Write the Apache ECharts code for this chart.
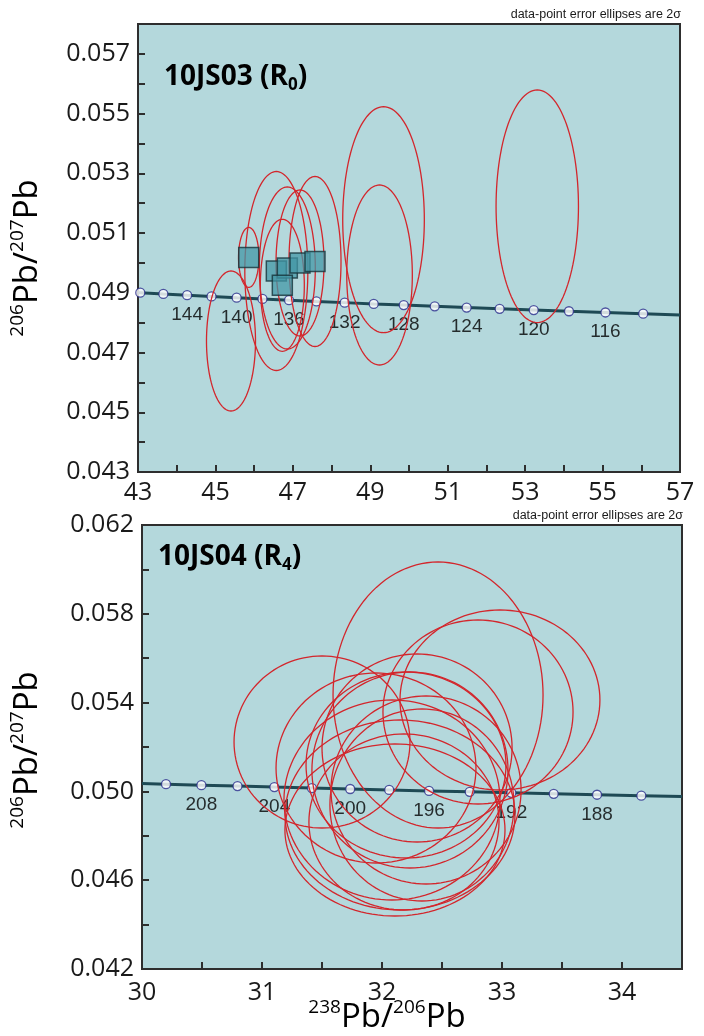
<!DOCTYPE html>
<html><head><meta charset="utf-8">
<script src="https://cdn.jsdelivr.net/npm/echarts@6/dist/echarts.min.js"></script>
<style>html,body{margin:0;padding:0;background:#fff}#c{width:704px;height:1036px}</style>
</head><body><div id="c"></div>
<script>
// ---------- Top panel: 10JS03 (R0) ----------
const topXTicks = [43, 45, 47, 49, 51, 53, 55, 57];
const topYTicks = [0.043, 0.045, 0.047, 0.049, 0.051, 0.053, 0.055, 0.057];
const topAges  = [148,146,144,142,140,138,136,134,132,130,128,126,124,122,120,118,116,114];
const topAgeX  = [43.059,43.655,44.269,44.899,45.548,46.215,46.901,47.609,48.338,49.089,49.864,50.664,51.489,52.341,53.222,54.132,55.074,56.049];
const topAgeY  = [0.049004,0.048962,0.048920,0.048879,0.048837,0.048795,0.048754,0.048712,0.048671,0.048629,0.048588,0.048547,0.048505,0.048464,0.048423,0.048382,0.048341,0.048300];
const topLabelAges = [144,140,136,132,128,124,120,116];
const topEdgeX = [43, 57];
const topEdgeY = [0.049008, 0.048260];
const topEllX  = [45.402, 45.860, 46.573, 46.857, 47.185, 47.572, 46.728, 49.342, 49.239, 53.313];
const topEllY  = [0.047386,0.050185,0.049730,0.049830,0.049998,0.050048,0.049251,0.051448,0.049596,0.051896];
const topEllSx = [0.633, 0.263, 0.814, 0.723, 0.620, 0.672, 0.568, 1.054, 0.847, 1.064];
const topEllSy = [0.002344,0.001004,0.003331,0.002712,0.002444,0.002846,0.002210,0.003783,0.003013,0.003894];
const topUsed  = [0,1,1,1,1,1,1,0,0,0];

// ---------- Bottom panel: 10JS04 (R4) ----------
const botXTicks = [30, 31, 32, 33, 34];
const botYTicks = [0.042, 0.046, 0.050, 0.054, 0.058, 0.062];
const botAges  = [210,208,206,204,202,200,198,196,194,192,190,188,186];
const botAgeX  = [30.200,30.495,30.796,31.103,31.416,31.735,32.060,32.392,32.731,33.078,33.431,33.792,34.161];
const botAgeY  = [0.050324,0.050282,0.050238,0.050194,0.050151,0.050108,0.050065,0.050022,0.049979,0.049936,0.049893,0.049850,0.049807];
const botLabelAges = [208,204,200,196,192,188];
const botEdgeX = [30, 34.5];
const botEdgeY = [0.050352, 0.049767];
const botEllX  = [32.467,32.983,32.800,31.500,31.950,32.292,32.200,32.367,32.333,32.183,32.108,32.150,32.083,32.233];
const botEllY  = [0.054342,0.054117,0.053577,0.052225,0.051054,0.051955,0.051189,0.050063,0.049387,0.048622,0.048261,0.048937,0.049613,0.050964];
const botEllSx = [0.875,0.833,0.792,0.733,0.833,0.792,0.833,0.792,0.767,0.792,0.917,0.958,0.900,0.817];
const botEllSy = [0.005991,0.004054,0.004144,0.003874,0.004279,0.004234,0.004189,0.004234,0.004324,0.003964,0.003874,0.004279,0.004505,0.004414];

const near = (arr, v) => arr.some(t => Math.abs(t - v) < 1e-7);
const TXT = '#1a1a1a';

function ellipseItem(params, api) {
  const c = api.coord([api.value(0), api.value(1)]);
  const s = api.size([api.value(2), api.value(3)]);
  const pts = [];
  for (let k = 0; k < 120; k++) {
    const a = k / 120 * Math.PI * 2;
    pts.push([c[0] + s[0] * Math.cos(a), c[1] + s[1] * Math.sin(a)]);
  }
  return { type: 'polygon', shape: { points: pts },
    style: { fill: 'none', stroke: '#d3262c', lineWidth: 1.3 } };
}

function curveData(ex, ey, ax, ay) {
  const d = [[ex[0], ey[0]]];
  ax.forEach((x, i) => d.push([x, ay[i]]));
  d.push([ex[1], ey[1]]);
  return d;
}

function axisPair(idx, xmin, xmax, xint, xTicks, ymin, ymax, yint, yTicks, xMargin) {
  return {
    x: { type: 'value', gridIndex: idx, min: xmin, max: xmax, interval: xint,
      axisLine: { show: true, onZero: false, lineStyle: { color: '#2e2e2e', width: 2 } },
      axisTick: { show: true, inside: true, length: 7, lineStyle: { color: '#2e2e2e', width: 2 } },
      splitLine: { show: false },
      axisLabel: { margin: xMargin, fontSize: 25, fontFamily: 'Open Sans', color: TXT,
        formatter: v => near(xTicks, v) ? String(Math.round(v)) : '' } },
    y: { type: 'value', gridIndex: idx, min: ymin, max: ymax, interval: yint,
      axisLine: { show: true, onZero: false, lineStyle: { color: '#2e2e2e', width: 2 } },
      axisTick: { show: true, inside: true, length: 7, lineStyle: { color: '#2e2e2e', width: 2 } },
      splitLine: { show: false },
      axisLabel: { margin: 8, fontSize: 25, fontFamily: 'Open Sans', color: TXT,
        formatter: v => near(yTicks, v) ? v.toFixed(3) : '' } }
  };
}

const a0 = axisPair(0, 43, 57, 1, topXTicks, 0.043, 0.058, 0.001, topYTicks, 8);
const a1 = axisPair(1, 30, 34.5, 0.5, botXTicks, 0.042, 0.062, 0.002, botYTicks, 11);

function concSeries(idx, ex, ey, ax, ay, ages, labelAges) {
  return [
    { type: 'line', xAxisIndex: idx, yAxisIndex: idx, data: curveData(ex, ey, ax, ay),
      showSymbol: false, silent: true, z: 1,
      lineStyle: { color: '#1e4a55', width: 3 } },
    { type: 'scatter', xAxisIndex: idx, yAxisIndex: idx, z: 2,
      data: ax.map((x, i) => [x, ay[i], ages[i]]),
      symbol: 'circle', symbolSize: 9,
      itemStyle: { color: '#ffffff', borderColor: '#2a2d8c', borderWidth: 1.3 },
      label: { show: true, position: 'bottom', distance: 5, fontSize: 19,
        fontFamily: 'Liberation Sans', color: '#000',
        formatter: p => labelAges.indexOf(p.value[2]) >= 0 ? String(p.value[2]) : '' } }
  ];
}

const topEllData = topEllX.map((x, i) => [x, topEllY[i], topEllSx[i], topEllSy[i]]);
const botEllData = botEllX.map((x, i) => [x, botEllY[i], botEllSx[i], botEllSy[i]]);
const topSquares = topEllX.map((x, i) => [x, topEllY[i]]).filter((d, i) => topUsed[i]);

const supRich = {
  m: { fontSize: 33, fontFamily: 'Open Sans', color: TXT, lineHeight: 40 },
  s: { fontSize: 19, fontFamily: 'Open Sans', color: TXT, lineHeight: 22, verticalAlign: 'top' }
};
const titleRich = {
  t: { fontSize: 28, fontWeight: 'bold', fontFamily: 'Open Sans', color: TXT, lineHeight: 34 },
  b: { fontSize: 17, fontWeight: 'bold', fontFamily: 'Open Sans', color: TXT, lineHeight: 20, verticalAlign: 'bottom' }
};

const option = {
  animation: false,
  backgroundColor: '#ffffff',
  grid: [
    { left: 138, right: 24, top: 24, height: 448, show: true, backgroundColor: '#b4d8dc', borderColor: '#2e2e2e', borderWidth: 2 },
    { left: 142, right: 22, top: 525, height: 444, show: true, backgroundColor: '#b4d8dc', borderColor: '#2e2e2e', borderWidth: 2 }
  ],
  xAxis: [a0.x, a1.x],
  yAxis: [a0.y, a1.y],
  series: [
    ...concSeries(0, topEdgeX, topEdgeY, topAgeX, topAgeY, topAges, topLabelAges),
    ...concSeries(1, botEdgeX, botEdgeY, botAgeX, botAgeY, botAges, botLabelAges),
    { type: 'custom', xAxisIndex: 0, yAxisIndex: 0, z: 3, renderItem: ellipseItem, data: topEllData, silent: true },
    { type: 'custom', xAxisIndex: 1, yAxisIndex: 1, z: 3, renderItem: ellipseItem, data: botEllData, silent: true },
    { type: 'scatter', xAxisIndex: 0, yAxisIndex: 0, z: 4, data: topSquares, symbol: 'rect', symbolSize: 20,
      itemStyle: { color: 'rgba(66,150,166,0.92)', borderColor: '#15333a', borderWidth: 1.5 } }
  ],
  graphic: [
    { type: 'text', right: 23, top: 8, style: { text: 'data-point error ellipses are 2σ', font: '12.5px "Liberation Sans"', fill: TXT } },
    { type: 'text', right: 21, top: 509, style: { text: 'data-point error ellipses are 2σ', font: '12.5px "Liberation Sans"', fill: TXT } },
    { type: 'text', x: 164, y: 77, style: { text: '{t|10JS03 (R}{b|0}{t|)}', rich: titleRich, align: 'left', verticalAlign: 'middle' } },
    { type: 'text', x: 158, y: 557, style: { text: '{t|10JS04 (R}{b|4}{t|)}', rich: titleRich, align: 'left', verticalAlign: 'middle' } },
    { type: 'text', x: 28, y: 258, rotation: Math.PI / 2, style: { text: '{s|206}{m|Pb/}{s|207}{m|Pb}', rich: supRich, align: 'center', verticalAlign: 'middle' } },
    { type: 'text', x: 28, y: 750, rotation: Math.PI / 2, style: { text: '{s|206}{m|Pb/}{s|207}{m|Pb}', rich: supRich, align: 'center', verticalAlign: 'middle' } },
    { type: 'text', x: 387, y: 1018, style: { text: '{s|238}{m|Pb/}{s|206}{m|Pb}', rich: supRich, align: 'center', verticalAlign: 'middle' } }
  ]
};
echarts.init(document.getElementById('c')).setOption(option);
</script></body></html>
